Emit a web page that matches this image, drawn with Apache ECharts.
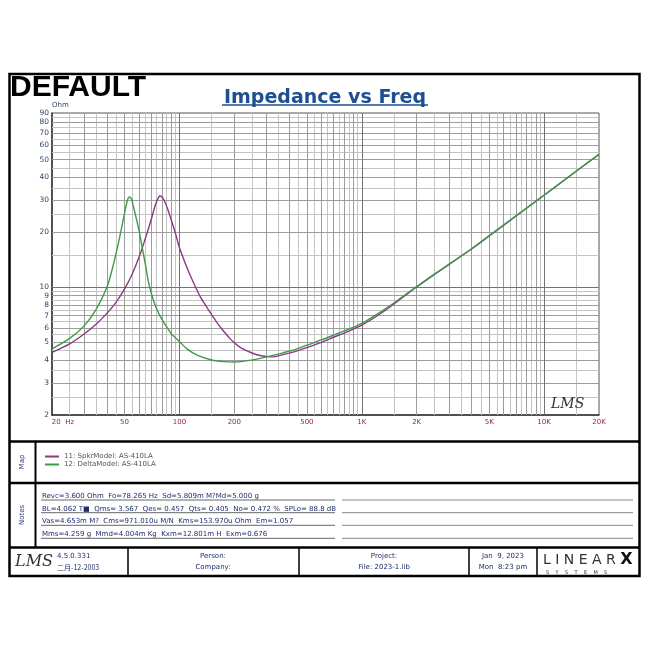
<!DOCTYPE html>
<html><head><meta charset="utf-8">
<script src="https://cdn.jsdelivr.net/npm/echarts@6/dist/echarts.min.js"></script>
<style>html,body{margin:0;padding:0;background:#fff}#c{width:650px;height:650px}</style>
</head><body><div id="c"></div>
<script>
// ---- data ----
const nameSpkr = '11: SpkrModel: AS-410LA';
const nameDelta = '12: DeltaModel: AS-410LA';
const freqSpkr = [20,25,30,35,40,45,50,55,60,65,70,74,77,78.3,80,83,86,90,95,100,110,120,130,140,150,160,170,180,190,200,220,250,280,320,370,430,500,600,700,800,1000,1300,1600,2000,2500,3000,4000,5000,7000,10000,13500,16000,20000];
const impSpkr  = [4.4,4.9,5.55,6.3,7.2,8.3,9.8,11.8,14.6,18.5,23.5,28.5,31.2,31.6,31.3,29.5,27,23.5,19.8,16.5,12.8,10.5,8.9,7.9,7.1,6.45,5.95,5.55,5.22,4.97,4.63,4.37,4.22,4.16,4.28,4.45,4.68,5.0,5.33,5.62,6.2,7.3,8.5,10.05,11.75,13.3,16.2,19.1,24.5,31.9,39.9,45.3,53.4];
const freqDelta = [20,25,30,35,40,43,46,48,50,51.5,53,54.5,56,58,60,62,65,68,72,76,80,90,100,110,125,150,175,200,250,300,370,430,500,600,700,800,1000,1300,1600,2000,2500,3000,4000,5000,7000,10000,13500,16000,20000];
const impDelta  = [4.6,5.25,6.15,7.6,10.0,12.8,17,20.8,25.5,29.2,31.2,30.5,27.5,23.8,20.5,17.2,13.4,10.4,8.5,7.4,6.7,5.6,5.05,4.6,4.25,4.0,3.92,3.9,4.0,4.16,4.38,4.56,4.82,5.15,5.47,5.77,6.35,7.45,8.6,10.1,11.8,13.35,16.25,19.2,24.6,32.0,40.0,45.4,53.5];
const xLabelValues = [20,50,100,200,500,1000,2000,5000,10000,20000];
const xLabelTexts  = ['20  Hz','50','100','200','500','1K','2K','5K','10K','20K'];
const yLabelValues = [2,3,4,5,6,7,8,9,10,20,30,40,50,60,70,80,90];
const xGridDecade = [100,1000,10000];
const xGridMajor = [30,40,50,60,70,80,90,200,300,400,500,600,700,800,900,2000,3000,4000,5000,6000,7000,8000,9000];
const xGridHalf = [25,35,45,55,65,75,85,95,150,250,350,450,550,650,750,850,950,1500,2500,3500,4500,5500,6500,7500,8500,9500,15000];
const yGridDecade = [10];
const yGridMajor = [3,4,5,6,7,8,9,20,30,40,50,60,70,80];
const yGridHalf = [2.5,3.5,4.5,5.5,6.5,7.5,8.5,9.5,15,25,35,45,55,65,75,85];
const notesLines = [
  'Revc=3.600 Ohm  Fo=78.265 Hz  Sd=5.809m M?Md=5.000 g',
  'BL=4.062 T\u25A0  Qms= 3.567  Qes= 0.457  Qts= 0.405  No= 0.472 %  SPLo= 88.8 dB',
  'Vas=4.653m M?  Cms=971.010u M/N  Kms=153.970u Ohm  Em=1.057',
  'Mms=4.259 g  Mmd=4.004m Kg  Kxm=12.801m H  Exm=0.676'
];

// ---- chart ----
const chart = echarts.init(document.getElementById('c'), null, {renderer:'canvas'});
const FONT = 'DejaVu Sans';
const NAVY = '#1f2d6b';
function zip(a,b){ return a.map((v,i)=>[v,b[i]]); }
function vl(vals,color){ return vals.map(v=>({xAxis:v, lineStyle:{color:color,width:1,type:'solid'}})); }
function hl(vals,color){ return vals.map(v=>({yAxis:v, lineStyle:{color:color,width:1,type:'solid'}})); }

const g = [];
function line(x1,y1,x2,y2,w,c){ g.push({type:'line', shape:{x1,y1,x2,y2}, style:{stroke:c||'#000', lineWidth:w}, z:10}); }
function text(t,x,y,opt){ g.push(Object.assign({type:'text', x, y, style:Object.assign({text:t, fill:NAVY, font:'7px "'+FONT+'"', textAlign:'left', textVerticalAlign:'middle'}, opt&&opt.style||{}), z:11}, opt&&opt.el||{})); }

// frame
g.push({type:'rect', shape:{x:9.5,y:74,width:630,height:502}, style:{fill:'none', stroke:'#000', lineWidth:2.5}, z:10});
line(9,441.5,640,441.5,2.5);
line(9,483,640,483,2.5);
line(9,547.5,640,547.5,2.5);
line(35.5,441.5,35.5,547.5,2);
[128,299,469,537].forEach(x=>line(x,547.5,x,576,1.5));
// DEFAULT
text('DEFAULT',10,88,{style:{font:'bold 30px "Liberation Sans"', fill:'#000'}});
// title underline
line(222,105,428,105,1.5,'#1d4f91');
// inner LMS logo
text('LMS',551,404,{style:{font:'italic 14px "DejaVu Serif"', fill:'#333'}});
// Map / Notes
text('Map',22,462,{el:{rotation:Math.PI/2}, style:{textAlign:'center', fill:'#2a3a7a'}});
text('Notes',22,515,{el:{rotation:Math.PI/2}, style:{textAlign:'center', fill:'#2a3a7a'}});
// notes text and lines
const noteY = [500,512.7,525.3,538.3];
notesLines.forEach((t,i)=>{
  text(t,42,noteY[i]-4,{style:{font:'7px "'+FONT+'"'}});
  line(41,noteY[i],335,noteY[i],1,'#666');
  line(342,noteY[i],633,noteY[i],1,'#888');
});
// footer
text('LMS',15,562,{style:{font:'italic 16px "DejaVu Serif"', fill:'#333'}});
text('4.5.0.331',57,556);
text('二月-12-2003',57,567,{style:{font:'7px "Noto Sans CJK SC"'}});
text('Person:',213,556,{style:{textAlign:'center'}});
text('Company:',213,567,{style:{textAlign:'center'}});
text('Project:',384,556,{style:{textAlign:'center'}});
text('File: 2023-1.lib',384,567,{style:{textAlign:'center'}});
text('Jan  9, 2023',503,556,{style:{textAlign:'center'}});
text('Mon  8:23 pm',503,567,{style:{textAlign:'center'}});
g.push({type:'text', x:543, y:560, z:11, style:{text:'{a|L I N E A R }{b|X}', textVerticalAlign:'middle', rich:{a:{font:'14px "DejaVu Sans"', fill:'#333'}, b:{font:'bold 16px "DejaVu Sans"', fill:'#111'}}}});
text('S    Y    S    T    E    M    S',546,572.5,{style:{font:'5px "DejaVu Sans"', fill:'#333'}});

const option = {
  animation:false,
  backgroundColor:'#fff',
  title:{text:'Impedance vs Freq', left:'center', top:84, textStyle:{fontFamily:FONT, fontSize:19, fontWeight:'bold', color:'#1d4f91'}},
  legend:{data:[nameSpkr,nameDelta], orient:'vertical', left:40, top:448, itemWidth:14, itemHeight:2, icon:'rect', itemGap:1,
          textStyle:{fontFamily:FONT, fontSize:7, color:'#555'}},
  grid:{left:52, right:51, top:113, bottom:235, show:true, borderColor:'#555', borderWidth:1},
  xAxis:{type:'log', logBase:10, min:20, max:20000,
    axisLine:{show:true, lineStyle:{color:'#333', width:1.5}}, axisTick:{show:false}, splitLine:{show:false},
    axisLabel:{customValues:xLabelValues, margin:4, color:'#8c2452', fontFamily:FONT, fontSize:7,
      formatter:function(v){ const i = xLabelValues.findIndex(x=>Math.abs(x-v)/x<1e-6); if(i===0) return '{p|}{t|20  Hz}'; return '{t|'+(i>=0?xLabelTexts[i]:'')+'}'; },
      rich:{p:{width:22}, t:{color:'#8c2452', fontFamily:FONT, fontSize:7}}}},
  yAxis:{type:'log', logBase:10, min:2, max:90, name:'Ohm', nameLocation:'end', nameGap:3,
    nameTextStyle:{align:'left', fontFamily:FONT, fontSize:7, color:'#34466a'},
    axisLine:{show:true, lineStyle:{color:'#333', width:1.5}}, axisTick:{show:false}, splitLine:{show:false},
    axisLabel:{customValues:yLabelValues, margin:3, color:'#34466a', fontFamily:FONT, fontSize:7.5,
      formatter:function(v){ return String(Math.round(v*10)/10); }}},
  series:[
    {type:'line', name:'grid', data:[], silent:true, z:1,
     markLine:{z:1, symbol:['none','none'], silent:true, animation:false, label:{show:false},
       data:[].concat(vl(xGridHalf,'#c4c4c4'), hl(yGridHalf,'#c4c4c4'), vl(xGridMajor,'#9c9c9c'), hl(yGridMajor,'#9c9c9c'), vl(xGridDecade,'#737373'), hl(yGridDecade,'#737373'))}},
    {type:'line', name:nameSpkr, data:zip(freqSpkr,impSpkr), showSymbol:false, smooth:0.3, z:6,
     lineStyle:{color:'#8b3a86', width:1.4}, itemStyle:{color:'#8b3a86'}},
    {type:'line', name:nameDelta, data:zip(freqDelta,impDelta), showSymbol:false, smooth:0.3, z:7,
     lineStyle:{color:'#3f9a45', width:1.4}, itemStyle:{color:'#3f9a45'}}
  ],
  graphic:g
};
chart.setOption(option);
</script></body></html>
